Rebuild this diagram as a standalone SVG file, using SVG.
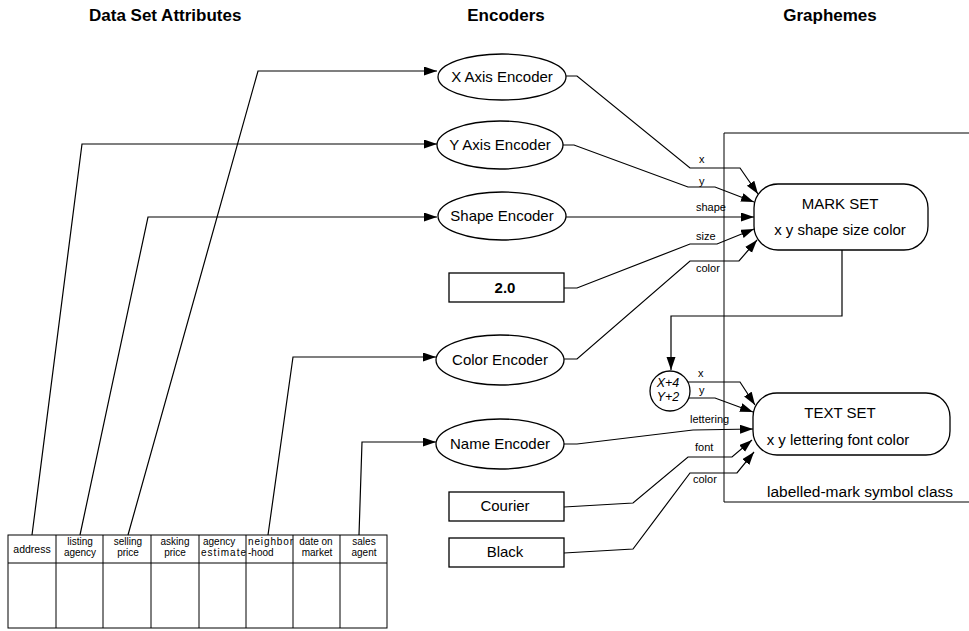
<svg xmlns="http://www.w3.org/2000/svg" width="969" height="631" viewBox="0 0 969 631">
<style>
text{font-family:"Liberation Sans",Arial,sans-serif;fill:#000}
.hdr{font-size:17px;font-weight:bold}
.lbl{font-size:15px;text-anchor:middle}
.sm{font-size:11px}
.cell{font-size:10px;text-anchor:middle}
.cl{font-size:10px}
.shape{fill:#fff;stroke:#000;stroke-width:1.3}
.ln{fill:none;stroke:#000;stroke-width:1.2}
.frame{fill:none;stroke:#000;stroke-width:1}
</style>
<defs>
<marker id="ah" markerUnits="userSpaceOnUse" markerWidth="14" markerHeight="10" refX="13" refY="4.5" orient="auto">
<path d="M0,0 L13,4.5 L0,9 z" fill="#000"/>
</marker>
</defs>
<rect width="969" height="631" fill="#fff"/>

<g id="headers">
<text class="hdr" x="89" y="21">Data Set Attributes</text>
<text class="hdr" x="506" y="21" text-anchor="middle">Encoders</text>
<text class="hdr" x="830" y="21" text-anchor="middle">Graphemes</text>
</g>

<g id="symbol-class">
<polyline class="frame" points="969,133 724,133 724,502 969,502"/>
<text x="767" y="497" style="font-size:15.5px">labelled-mark symbol class</text>
</g>

<g id="connectors">
<path class="ln" marker-end="url(#ah)" d="M128,535 L258,71 L437,71"/>
<path class="ln" marker-end="url(#ah)" d="M32,535 L82,144 L437,144"/>
<path class="ln" marker-end="url(#ah)" d="M80,535 L148,217 L437,217"/>
<path class="ln" marker-end="url(#ah)" d="M268,535 L293,357 L436,357"/>
<path class="ln" marker-end="url(#ah)" d="M359,535 L362,442 L436,442"/>

<path class="ln" marker-end="url(#ah)" d="M566,76 L577,76 L690,168 L740,168 L758,194"/>
<path class="ln" marker-end="url(#ah)" d="M563,145 L574,145 L688,187 L715,187 L754,202"/>
<path class="ln" marker-end="url(#ah)" d="M566,217 L754,217"/>
<path class="ln" marker-end="url(#ah)" d="M564,288 L577,288 L690,244 L717,244 L754,229"/>
<path class="ln" marker-end="url(#ah)" d="M564,359 L577,359 L690,261 L739,261 L757,240"/>

<path class="ln" marker-end="url(#ah)" d="M842,250 L842,316 L671,316 L671,370"/>

<path class="ln" marker-end="url(#ah)" d="M688,382 L740,382 L755,405"/>
<path class="ln" marker-end="url(#ah)" d="M688,398 L715,398 L753,412"/>
<path class="ln" marker-end="url(#ah)" d="M564,444 L577,444 L693,430 L753,429"/>
<path class="ln" marker-end="url(#ah)" d="M564,507 L633,503 L688,457 L732,457 L752,440"/>
<path class="ln" marker-end="url(#ah)" d="M564,553 L633,549 L690,473 L737,473 L754,452"/>

<text class="sm" x="699" y="163">x</text>
<text class="sm" x="699" y="185">y</text>
<text class="sm" x="696" y="211">shape</text>
<text class="sm" x="696" y="240">size</text>
<text class="sm" x="696" y="272">color</text>

<text class="sm" x="698" y="377">x</text>
<text class="sm" x="699" y="394">y</text>
<text class="sm" x="690" y="423">lettering</text>
<text class="sm" x="695" y="451">font</text>
<text class="sm" x="693" y="483">color</text>
</g>

<g id="x-axis-encoder">
<ellipse class="shape" cx="502" cy="77" rx="64" ry="23"/>
<text class="lbl" x="502" y="82">X Axis Encoder</text>
</g>
<g id="y-axis-encoder">
<ellipse class="shape" cx="500" cy="145" rx="63" ry="24"/>
<text class="lbl" x="500" y="150">Y Axis Encoder</text>
</g>
<g id="shape-encoder">
<ellipse class="shape" cx="502" cy="216" rx="64" ry="24"/>
<text class="lbl" x="502" y="221">Shape Encoder</text>
</g>
<g id="size-constant">
<rect class="shape" x="449" y="273" width="115" height="29"/>
<text class="lbl" x="505" y="293" font-weight="bold">2.0</text>
</g>
<g id="color-encoder">
<ellipse class="shape" cx="500" cy="360" rx="64" ry="25"/>
<text class="lbl" x="500" y="365">Color Encoder</text>
</g>
<g id="name-encoder">
<ellipse class="shape" cx="500" cy="444" rx="64" ry="25"/>
<text class="lbl" x="500" y="449">Name Encoder</text>
</g>
<g id="font-constant">
<rect class="shape" x="449" y="492" width="115" height="29"/>
<text class="lbl" x="505" y="511">Courier</text>
</g>
<g id="color-constant">
<rect class="shape" x="449" y="538" width="115" height="29"/>
<text class="lbl" x="505" y="557">Black</text>
</g>

<g id="mark-set">
<rect class="shape" x="754" y="184" width="174" height="66" rx="24" ry="24"/>
<text class="lbl" x="840" y="209">MARK SET</text>
<text class="lbl" x="840" y="235">x y shape size color</text>
</g>

<g id="offset">
<circle class="shape" cx="670" cy="391" r="20"/>
<text x="668" y="387" style="font-size:12.5px;font-style:italic;text-anchor:middle">X+4</text>
<text x="668" y="401" style="font-size:12.5px;font-style:italic;text-anchor:middle">Y+2</text>
</g>

<g id="text-set">
<rect class="shape" x="753" y="393" width="197" height="62" rx="24" ry="24"/>
<text class="lbl" x="840" y="418">TEXT SET</text>
<text class="lbl" x="838" y="445">x y lettering font color</text>
</g>

<g id="data-table">
<rect class="frame" x="8" y="535" width="379" height="93" stroke-width="1.2"/>
<line class="frame" x1="8" y1="563" x2="387" y2="563"/>
<line class="frame" x1="56" y1="535" x2="56" y2="628"/>
<line class="frame" x1="103" y1="535" x2="103" y2="628"/>
<line class="frame" x1="151" y1="535" x2="151" y2="628"/>
<line class="frame" x1="199" y1="535" x2="199" y2="628"/>
<line class="frame" x1="246" y1="535" x2="246" y2="628"/>
<line class="frame" x1="293" y1="535" x2="293" y2="628"/>
<line class="frame" x1="340" y1="535" x2="340" y2="628"/>
<text class="cell" x="32" y="553" style="font-size:10.5px">address</text>
<text class="cell" x="80" y="545">listing</text>
<text class="cell" x="80" y="556.3">agency</text>
<text class="cell" x="128" y="545">selling</text>
<text class="cell" x="128" y="556.3">price</text>
<text class="cell" x="175" y="545">asking</text>
<text class="cell" x="175" y="556.3">price</text>
<text class="cl" x="203" y="545">agency</text>
<text class="cl" x="201" y="556.3" textLength="45">estimate</text>
<text class="cl" x="248" y="545" textLength="45">neighbor</text>
<text class="cl" x="248" y="556.3">-hood</text>
<text class="cell" x="316" y="545">date on</text>
<text class="cell" x="317" y="556.3">market</text>
<text class="cell" x="364" y="545">sales</text>
<text class="cell" x="364" y="556.3">agent</text>
</g>
</svg>
